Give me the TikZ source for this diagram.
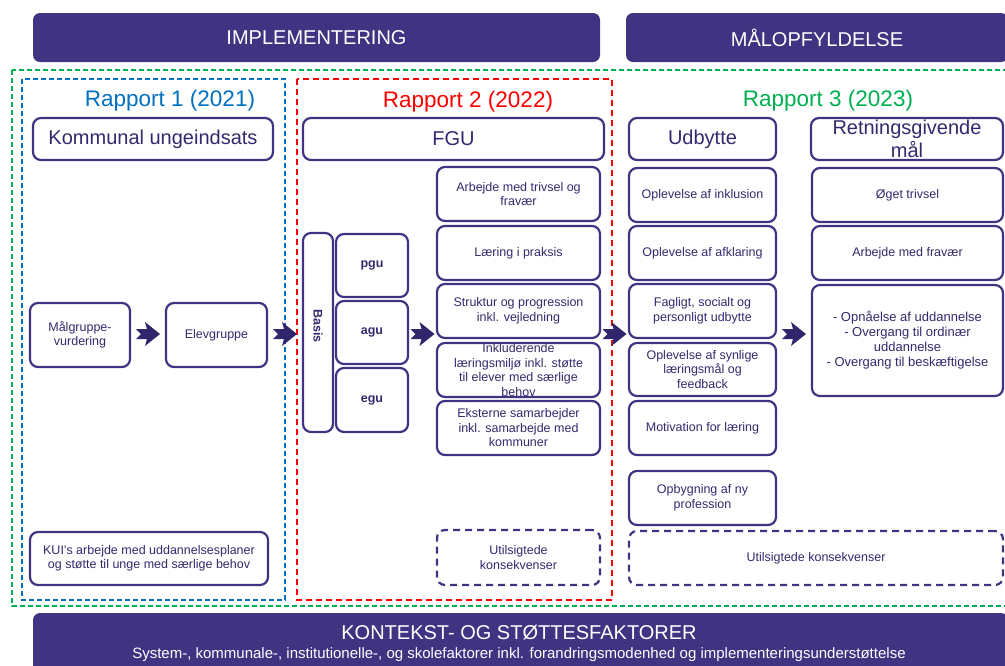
\documentclass[tikz,border=0pt]{standalone}
\usepackage{fontspec}
\setmainfont{Liberation Sans}
\usetikzlibrary{calc}
\definecolor{purp}{RGB}{64,52,130}
\definecolor{ptext}{RGB}{50,42,110}
\definecolor{parrow}{RGB}{48,38,108}
\definecolor{rblue}{RGB}{0,112,192}
\definecolor{rred}{RGB}{255,0,0}
\definecolor{rgreen}{RGB}{0,176,80}
\tikzset{
  banner/.style={fill=purp, rounded corners=7pt, text=white, align=center, inner sep=0pt,
    font=\fontsize{20}{22}\selectfont},
  box/.style={draw=purp, line width=2.2pt, rounded corners=8pt, fill=white, text=ptext,
    align=center, inner sep=0pt, font=\fontsize{12.5}{14.5}\selectfont},
  headbox/.style={box, font=\fontsize{20}{23}\selectfont},
  dbox/.style={box, dash pattern=on 7pt off 5pt},
  bbox/.style={box, font=\bfseries\fontsize{12.5}{14}\selectfont},
  frame/.style={line width=1.8pt, dash pattern=on 5pt off 3pt},
  rlabel/.style={font=\fontsize{22.5}{24}\selectfont, inner sep=0pt},
  blockarrow/.pic={\fill[parrow] (-12,-5) -- (-1,-5) -- (-3,-12) -- (12,0) -- (-3,12) -- (-1,5) -- (-12,5) -- (-7,0) -- cycle;}
}
\begin{document}
\begin{tikzpicture}[x=1pt,y=-1pt]
\useasboundingbox (0,0) rectangle (1005,665);
\clip (0,0) rectangle (1005,665);
% top banners
\node[banner, minimum width=567, minimum height=49] (impl) at (316.5,37.5) {IMPLEMENTERING};
\node[banner, minimum width=382, minimum height=49] (malop) at (817,37.5) {MÅLOPFYLDELSE};
% frames
\draw[frame, draw=rgreen] (12,70) rectangle (1010,606);
\draw[frame, draw=rblue] (22,79) rectangle (285,600);
\draw[frame, draw=rred, dash pattern=on 6pt off 4pt] (297,79) rectangle (612,600);
% report labels
\node[rlabel, text=rblue] (r1) at (170,101) {Rapport 1 (2021)};
\node[rlabel, text=rred] (r2) at (468,102) {Rapport 2 (2022)};
\node[rlabel, text=rgreen] (r3) at (828,101) {Rapport 3 (2023)};
% headers
\node[headbox, minimum width=240, minimum height=42] (kom) at (153,139) {Kommunal ungeindsats};
\node[headbox, minimum width=301, minimum height=42] (fgu) at (453.5,139) {FGU};
\node[headbox, minimum width=147, minimum height=42] (udb) at (702.5,139) {Udbytte};
\node[headbox, minimum width=192, minimum height=42] (ret) at (907,139) {Retningsgivende\\mål};
% left column
\node[box, minimum width=100, minimum height=64] (mg) at (80,335) {Målgruppe-\\vurdering};
\node[box, minimum width=101, minimum height=64] (elev) at (216.5,335) {Elevgruppe};
\node[box, minimum width=238, minimum height=53] (kui) at (149,558.5) {KUI’s arbejde med uddannelsesplaner\\og støtte til unge med særlige behov};
% middle column
\node[box, minimum width=30, minimum height=199] (basis) at (318,332.5) {};
\node[rotate=-90, text=ptext, font=\bfseries\fontsize{12.5}{14}\selectfont] (basislbl) at (318,326) {Basis};
\node[bbox, minimum width=72, minimum height=63] (pgu) at (372,265.5) {pgu};
\node[bbox, minimum width=72, minimum height=63] (agu) at (372,332.5) {agu};
\node[bbox, minimum width=72, minimum height=64] (egu) at (372,400) {egu};
\node[box, minimum width=163, minimum height=54] (m1) at (518.5,194) {Arbejde med trivsel og\\fravær};
\node[box, minimum width=163, minimum height=54] (m2) at (518.5,253) {Læring i praksis};
\node[box, minimum width=163, minimum height=54] (m3) at (518.5,311) {Struktur og progression\\inkl. vejledning};
\node[box, minimum width=163, minimum height=54] (m4) at (518.5,370) {Inkluderende\\læringsmiljø inkl. støtte\\til elever med særlige\\behov};
\node[box, minimum width=163, minimum height=54] (m5) at (518.5,428) {Eksterne samarbejder\\inkl. samarbejde med\\kommuner};
\node[dbox, minimum width=163, minimum height=55] (ut1) at (518.5,557.5) {Utilsigtede\\konsekvenser};
% udbytte column
\node[box, minimum width=147, minimum height=54] (u1) at (702.5,195) {Oplevelse af inklusion};
\node[box, minimum width=147, minimum height=54] (u2) at (702.5,253) {Oplevelse af afklaring};
\node[box, minimum width=147, minimum height=54] (u3) at (702.5,311) {Fagligt, socialt og\\personligt udbytte};
\node[box, minimum width=147, minimum height=53] (u4) at (702.5,369.5) {Oplevelse af synlige\\læringsmål og\\feedback};
\node[box, minimum width=147, minimum height=54] (u5) at (702.5,428) {Motivation for læring};
\node[box, minimum width=147, minimum height=54] (u6) at (702.5,498) {Opbygning af ny\\profession};
\node[dbox, minimum width=374, minimum height=54] (ut2) at (816,558) {Utilsigtede konsekvenser};
% retningsgivende column
\node[box, minimum width=191, minimum height=54] (g1) at (907.5,195) {Øget trivsel};
\node[box, minimum width=191, minimum height=54] (g2) at (907.5,253) {Arbejde med fravær};
\node[box, minimum width=191, minimum height=111, font=\fontsize{13}{15}\selectfont] (g3) at (907.5,340.5) {- Opnåelse af uddannelse\\- Overgang til ordinær\\uddannelse\\- Overgang til beskæftigelse};
% arrows
\path let \p1=($(mg.east)!0.5!(elev.west)$) in coordinate (a1) at (\x1,334);
\path let \p1=($(elev.east)!0.5!(basis.west)$) in coordinate (a2) at (\x1,334);
\path let \p1=($(agu.east)!0.5!(m3.west)$) in coordinate (a3) at (\x1,334);
\path let \p1=($(m3.east)!0.5!(u3.west)$) in coordinate (a4) at (\x1,334);
\path let \p1=($(u3.east)!0.5!(g3.west)$) in coordinate (a5) at (\x1,334);
\pic at (a1) {blockarrow};
\pic at (a2) {blockarrow};
\pic at (a3) {blockarrow};
\pic at (a4) {blockarrow};
\pic at (a5) {blockarrow};
% bottom banner
\node[banner, minimum width=975, minimum height=59] (kon) at (520.5,642.5) {};
\node[text=white, font=\fontsize{20}{22}\selectfont, inner sep=0pt] (kont) at (519,633) {KONTEKST- OG STØTTESFAKTORER};
\node[text=white, font=\fontsize{15}{17}\selectfont, inner sep=0pt] (kons) at (519,655) {System-, kommunale-, institutionelle-, og skolefaktorer inkl. forandringsmodenhed og implementeringsunderstøttelse};
\end{tikzpicture}
\end{document}
